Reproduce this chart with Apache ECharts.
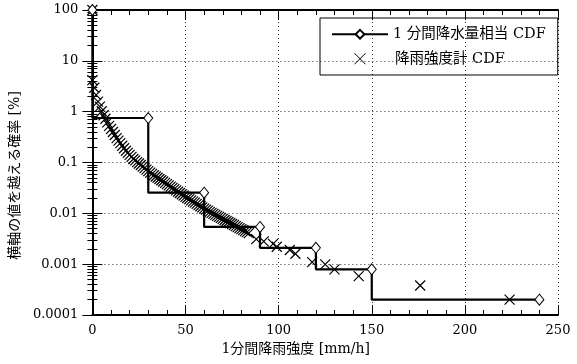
<!DOCTYPE html>
<html>
<head>
<meta charset="utf-8">
<script src="https://cdn.jsdelivr.net/npm/echarts@6/dist/echarts.min.js"></script>
<style>
  html, body { margin: 0; padding: 0; background: #fff; }
  #main { width: 577px; height: 364px; }
</style>
</head>
<body>
<div id="main"></div>
<script>
// 1分間降水量相当 CDF（階段状）
let stepX = [0, 30, 60, 90, 120, 150, 240];
let stepP = [100, 0.75, 0.0255, 0.0054, 0.0021, 0.00079, 0.0002];

// 降雨強度計 CDF
let gaugeX = [0, 0, 1, 2, 3, 4, 5, 6, 7, 8, 9, 10, 11, 12, 13, 14, 15, 16, 17, 18, 19,
  20, 21, 22, 23, 24, 25, 26, 27, 28, 29, 30, 31, 32, 33, 34, 35, 36, 37, 38, 39,
  40, 41, 42, 43, 44, 45, 46, 47, 48, 49, 50, 51, 52, 53, 54, 55, 56, 57, 58, 59,
  60, 61, 62, 63, 64, 65, 66, 67, 68, 69, 70, 71, 72, 73, 74, 75, 76, 77, 78, 79,
  80, 81, 82, 83, 84, 88, 92, 97, 99, 106, 109, 118, 125, 130, 143, 176, 224];
let gaugeP = [100, 4.17, 2.95, 2.14, 1.58, 1.26, 1.02, 0.851, 0.724, 0.617, 0.525,
  0.457, 0.398, 0.347, 0.302, 0.269, 0.240, 0.214, 0.191, 0.170, 0.155,
  0.141, 0.129, 0.117, 0.110, 0.102, 0.0955, 0.0891, 0.0832, 0.0776, 0.0724,
  0.0676, 0.0631, 0.0596, 0.0562, 0.0531, 0.0501, 0.0473, 0.0447, 0.0422, 0.0398,
  0.0376, 0.0355, 0.0335, 0.0316, 0.0299, 0.0282, 0.0266, 0.0251, 0.0237, 0.0224,
  0.0211, 0.0200, 0.0190, 0.0180, 0.0170, 0.0162, 0.0153, 0.0145, 0.0138, 0.0131,
  0.0124, 0.0118, 0.0113, 0.0107, 0.0102, 0.00977, 0.00933, 0.00891, 0.00851, 0.00813,
  0.00776, 0.00741, 0.00708, 0.00676, 0.00646, 0.00617, 0.00589, 0.00562, 0.00537, 0.00513,
  0.00490, 0.00468, 0.00447, 0.00427, 0.00407,
  0.0031, 0.0028, 0.0025, 0.0022, 0.0019, 0.0016, 0.0011, 0.00099, 0.00079, 0.00058, 0.00038, 0.0002];

let xTicks = [0, 50, 100, 150, 200, 250];
let yTickLabels = ['0.0001', '0.001', '0.01', '0.1', '1', '10', '100'];

let serif = "'DejaVu Serif', 'Noto Sans CJK JP'";
let crossPath = 'path://M0,0L10,10M0,10L10,0';

function xAxisOf(pos, labels) {
  return {
    type: 'value', position: pos,
    min: xTicks[0], max: xTicks[xTicks.length - 1], interval: xTicks[1] - xTicks[0],
    axisLine: {show: true, onZero: false, lineStyle: {color: '#000', width: 2}},
    axisTick: {show: true, inside: true, length: 10, lineStyle: {color: '#000', width: 1}},
    minorTick: {show: true, splitNumber: 5, length: 5, lineStyle: {color: '#000', width: 1}},
    axisLabel: {show: labels, color: '#000', fontFamily: serif, fontSize: 13, margin: 9},
    splitLine: {show: labels, lineStyle: {color: '#333', width: 1, type: [1, 3]}}
  };
}

function yAxisOf(pos, labels) {
  return {
    type: 'log', logBase: 10, position: pos,
    min: 0.0001, max: 100,
    axisLine: {show: true, lineStyle: {color: '#000', width: 2}},
    axisTick: {show: true, inside: true, length: 10, lineStyle: {color: '#000', width: 1}},
    minorTick: {show: true, splitNumber: 9, length: 5, lineStyle: {color: '#000', width: 1}},
    axisLabel: {
      show: labels, color: '#000', fontFamily: serif, fontSize: 13, margin: 14,
      formatter: function (v) { return yTickLabels[Math.round(Math.log10(v)) + 4]; }
    },
    splitLine: {show: labels, lineStyle: {color: '#333', width: 1, type: [1, 3]}}
  };
}

let xb = xAxisOf('bottom', true);
xb.name = '1分間降雨強度 [mm/h]';
xb.nameLocation = 'middle';
xb.nameGap = 22;
xb.nameTextStyle = {color: '#000', fontFamily: serif, fontSize: 14, padding: [0, 59, 0, 0], verticalAlign: 'top'};

let yl = yAxisOf('left', true);
yl.name = '横軸の値を越える確率 [%]';
yl.nameLocation = 'middle';
yl.nameGap = 68;
yl.nameTextStyle = {color: '#000', fontFamily: serif, fontSize: 14, padding: [0, 26, 0, 0]};

let chart = echarts.init(document.getElementById('main'));
chart.setOption({
  animation: false,
  backgroundColor: '#fff',
  grid: {left: 85, right: 19, top: 10, bottom: 49},
  legend: {
    orient: 'vertical', left: 320, top: 18,
    padding: [9, 12, 9, 11], itemGap: 10,
    itemWidth: 56, itemHeight: 11,
    borderColor: '#000', borderWidth: 1,
    textStyle: {color: '#000', fontFamily: serif, fontSize: 14.5},
    data: [
      {name: '1 分間降水量相当 CDF'},
      {name: '降雨強度計 CDF', itemStyle: {borderWidth: 1}, textStyle: {padding: [0, 0, 0, 2]}}
    ]
  },
  xAxis: [xb, xAxisOf('top', false)],
  yAxis: [yl, yAxisOf('right', false)],
  series: [
    {
      name: '1 分間降水量相当 CDF',
      type: 'line', step: 'start',
      data: stepX.map((x, i) => [x, stepP[i]]),
      symbol: 'diamond', symbolSize: [9, 11],
      showAllSymbol: true,
      lineStyle: {color: '#000', width: 2.2},
      itemStyle: {color: '#fff', borderColor: '#000', borderWidth: 1}
    },
    {
      name: '降雨強度計 CDF',
      type: 'scatter',
      data: gaugeX.map((x, i) => [x, gaugeP[i]]),
      symbol: crossPath, symbolSize: 10, symbolKeepAspect: true,
      itemStyle: {color: 'transparent', borderColor: '#000', borderWidth: 1.2, opacity: 1}
    }
  ]
});
</script>
</body>
</html>
